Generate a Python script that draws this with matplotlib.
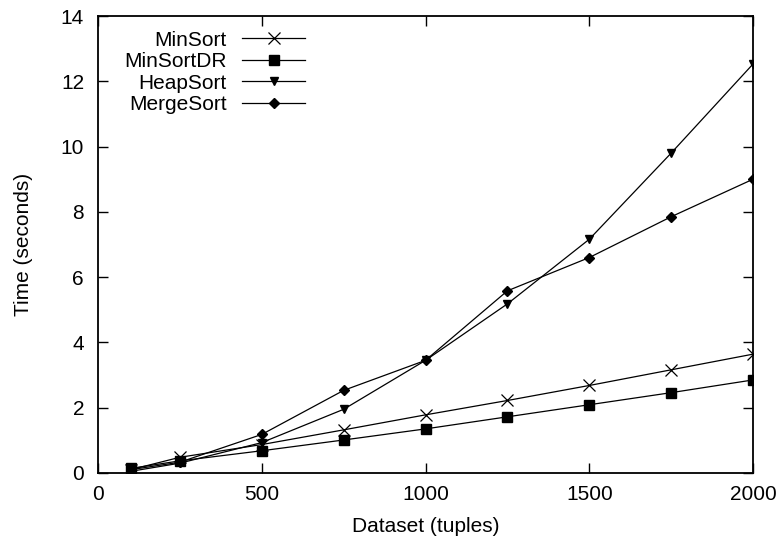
import matplotlib
matplotlib.use("Agg")
import matplotlib.pyplot as plt

plt.rcParams['font.family'] = ['Liberation Sans', 'DejaVu Sans']

# dataset sizes (tuples)
sizes = [100, 250, 500, 750, 1000, 1250, 1500, 1750, 2000]

# running time in seconds
minsort = [0.10, 0.48, 0.87, 1.32, 1.78, 2.22, 2.68, 3.16, 3.64]
minsort_dr = [0.14, 0.37, 0.68, 1.01, 1.35, 1.72, 2.09, 2.46, 2.85]
heapsort = [0.05, 0.30, 0.93, 1.95, 3.45, 5.18, 7.16, 9.80, 12.53]
mergesort = [0.10, 0.33, 1.18, 2.53, 3.45, 5.58, 6.60, 7.85, 9.00]

fig = plt.figure(figsize=(7.84, 5.43), dpi=100)
ax = fig.add_axes([0.125, 0.129, 0.8355, 0.8415])

ax.plot(sizes, minsort, color='k', lw=0.9, marker='x', ms=8, mew=0.9, label='MinSort')
ax.plot(sizes, minsort_dr, color='k', lw=0.9, marker='s', ms=6.5, label='MinSortDR')
ax.plot(sizes, heapsort, color='k', lw=0.9, marker='v', ms=6, label='HeapSort')
ax.plot(sizes, mergesort, color='k', lw=0.9, marker='D', ms=5, label='MergeSort')

ax.set_xlim(0, 2000)
ax.set_ylim(0, 14)
ax.set_xticks([0, 500, 1000, 1500, 2000])
ax.set_yticks(range(0, 15, 2))
ax.tick_params(direction='in', length=7, width=1, top=True, right=True,
               labelsize=15)
ax.tick_params(axis='x', pad=9)
ax.tick_params(axis='y', pad=10)
for s in ax.spines.values():
    s.set_linewidth(1.3)

ax.set_xlabel('Dataset (tuples)', fontsize=15, labelpad=9)
ax.set_ylabel('Time (seconds)', fontsize=15, labelpad=20)

ax.legend(loc='upper right', bbox_to_anchor=(0.316, 0.968), frameon=False,
          markerfirst=False, fontsize=15, handlelength=3.0,
          labelspacing=0.12, handletextpad=0.75, borderaxespad=0, borderpad=0)

fig.savefig('out.png', dpi=100)
